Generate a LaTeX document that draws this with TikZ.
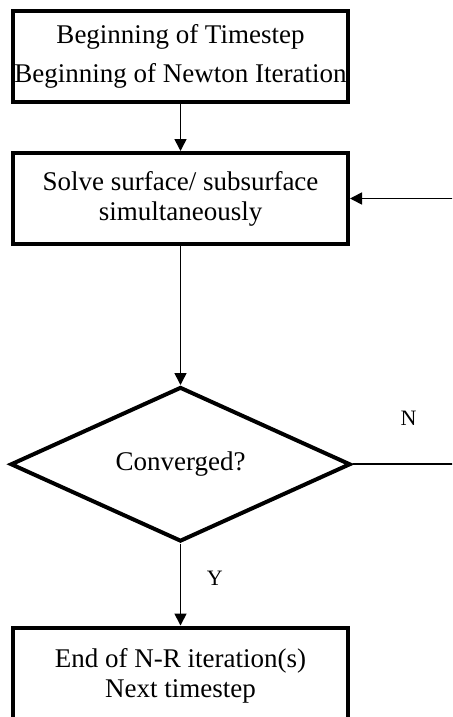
\documentclass[tikz,border=0pt]{standalone}
\usepackage{fontspec}
\setmainfont{Liberation Serif}
\usetikzlibrary{positioning, arrows.meta, shapes.geometric}

\begin{document}
\begin{tikzpicture}[
    node distance=23.5pt,
    block/.style={rectangle, draw=black, line width=2pt, align=center, minimum height=45.5pt, minimum width=167.5pt, inner xsep=0pt, inner ysep=2pt, font=\fontsize{13.5}{15}\selectfont},
    decision/.style={diamond, draw=black, line width=2pt, minimum width=170pt, minimum height=73.5pt, inner sep=0pt, font=\fontsize{13.5}{15}\selectfont},
    arrow/.style={-{Triangle[length=6pt, width=6pt]}, line width=0.8pt, draw=black},
    line/.style={line width=0.8pt, draw=black},
    branch/.style={font=\fontsize{11}{13}\selectfont}
]
    \useasboundingbox (0,0) rectangle (226pt,-358.5pt);
    \clip (0,0) rectangle (226pt,-358.5pt);

    \node [block] (start) at (90.25pt,-28.25pt) {Beginning of Timestep\\[4.5pt]Beginning of Newton Iteration};
    \node [block, below=of start] (solve) {Solve surface/ subsurface\\simultaneously};
    \node [decision, below=69.5pt of solve] (conv) {Converged?};
    \node [block, below=41pt of conv, minimum height=48pt] (next) {End of N-R iteration(s)\\Next timestep};

    \coordinate [right=52pt of solve.east] (back);
    \coordinate [right=51pt of conv.east] (nout);

    \draw [arrow] (start) -- (solve);
    \draw [arrow] (solve) -- (conv);
    \draw [arrow] (conv) -- node [branch, right=9.5pt, pos=0.42] {Y} (next);
    \draw [line] (conv) -- node [branch, above=15.5pt, pos=0.55] {N} (nout);
    \draw [arrow] (back) -- (solve);
\end{tikzpicture}
\end{document}
